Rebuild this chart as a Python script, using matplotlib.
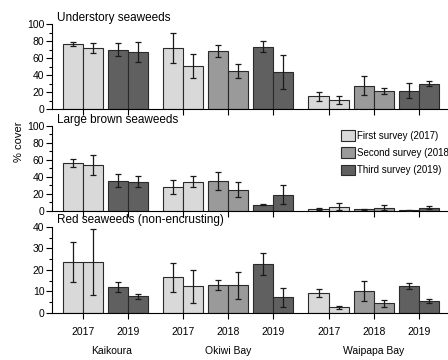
import matplotlib
matplotlib.use("Agg")
import matplotlib.pyplot as plt
from matplotlib.patches import Patch
from matplotlib.ticker import MultipleLocator
import matplotlib.transforms as mtransforms
import numpy as np

plt.rcParams['font.family'] = ['Liberation Sans', 'DejaVu Sans']

# Survey layout: two sites sampled per location and survey year
sites = ['Kaikoura', 'Okiwi Bay', 'Waipapa Bay']
site_years = [['2017', '2019'], ['2017', '2018', '2019'], ['2017', '2018', '2019']]

# Mean % cover (two bars per survey) and standard errors
understory_mean = [76.4, 71.7, 70.1, 67.3, 71.7, 51.2, 68.5, 45.3,
                   73.6, 44.1, 15.0, 11.0, 27.6, 21.3, 21.7, 29.9]
understory_err = [2.4, 6.0, 8.0, 11.8, 17.5, 14.2, 6.9, 8.3,
                  6.9, 19.9, 5.1, 4.5, 10.8, 3.7, 8.5, 3.1]

brown_mean = [56.9, 53.7, 35.7, 34.5, 28.2, 34.5, 35.3, 24.7,
              7.5, 19.2, 2.4, 5.1, 2.0, 3.9, 0.8, 3.9]
brown_err = [4.7, 11.8, 7.6, 6.1, 8.6, 6.5, 11.0, 8.8,
             0.8, 11.2, 1.6, 4.1, 0.6, 3.1, 0.3, 1.4]

red_mean = [23.7, 23.7, 12.0, 7.6, 16.5, 12.3, 12.8, 12.8,
            22.7, 7.2, 9.3, 2.6, 10.1, 4.4, 12.3, 5.4]
red_err = [9.3, 15.4, 2.2, 1.2, 6.7, 7.5, 2.3, 6.2,
           4.9, 4.4, 2.0, 0.6, 4.7, 1.7, 1.4, 0.9]

panels = [
    ('Understory seaweeds', understory_mean, understory_err, 100),
    ('Large brown seaweeds', brown_mean, brown_err, 100),
    ('Red seaweeds (non-encrusting)', red_mean, red_err, 40),
]

year_colors = {'2017': '#d9d9d9', '2018': '#9a9a9a', '2019': '#606060'}
legend_labels = {'2017': 'First survey (2017)',
                 '2018': 'Second survey (2018)',
                 '2019': 'Third survey (2019)'}

# x centres of each survey year, grouped by site
centers, years, site_centers = [], [], []
x = 0.0
for s, yrs in enumerate(site_years):
    if s > 0:
        x += 2.75
    start = x
    for j, yr in enumerate(yrs):
        if j > 0:
            x += 2.25
        centers.append(x)
        years.append(yr)
    site_centers.append((start + x) / 2)
site_centers[0] += 0.3

bar_x, bar_colors = [], []
for c, yr in zip(centers, years):
    for off in (-0.5, 0.5):
        bar_x.append(c + off)
        bar_colors.append(year_colors[yr])

fs = 7.5
fig = plt.figure(figsize=(4.48, 3.6), dpi=100)
axes_boxes = [(0.116, 0.697, 0.884, 0.236),
              (0.116, 0.414, 0.884, 0.236),
              (0.116, 0.131, 0.884, 0.239)]

for box, (title, mean, err, ymax) in zip(axes_boxes, panels):
    ax = fig.add_axes(box)
    ax.bar(bar_x, mean, width=1.0, color=bar_colors, edgecolor='#2a2a2a',
           linewidth=0.8, zorder=2)
    ax.errorbar(bar_x, mean, yerr=err, fmt='none', ecolor='#1a1a1a',
                elinewidth=0.9, capsize=2.4, capthick=0.9, zorder=3)
    ax.set_xlim(-1.53, 18.2)
    ax.set_ylim(0, ymax)
    ax.spines[['top', 'right']].set_visible(False)
    ax.spines[['left', 'bottom']].set_linewidth(0.8)
    major = 20 if ymax == 100 else 10
    ax.yaxis.set_major_locator(MultipleLocator(major))
    ax.yaxis.set_minor_locator(MultipleLocator(major / 2))
    ax.tick_params(axis='y', which='major', length=4, width=0.8, labelsize=fs, pad=1.5)
    ax.tick_params(axis='y', which='minor', length=2, width=0.8)
    ax.set_xticks(centers)
    ax.tick_params(axis='x', length=4, width=0.8, labelsize=fs, pad=6)
    ax.set_xticklabels(years if ymax == 40 else [])
    ax.text(0.012, 1.005, title, transform=ax.transAxes, fontsize=8.5,
            ha='left', va='bottom')
    last_ax = ax

# Location names under the year ticks
trans = mtransforms.blended_transform_factory(last_ax.transData, fig.transFigure)
for name, cx in zip(sites, site_centers):
    fig.text(cx, 1 - 351 / 360, name, transform=trans, fontsize=fs,
             ha='center', va='center')

fig.text(19 / 448, 1 - 142 / 360, '% cover', rotation=90, fontsize=fs + 0.5,
         ha='center', va='center')

handles = [Patch(facecolor=year_colors[y], edgecolor='#2a2a2a', linewidth=0.8,
                 label=legend_labels[y]) for y in ['2017', '2018', '2019']]
fig.legend(handles=handles, loc='upper left', bbox_to_anchor=(0.761, 0.639),
           frameon=False, fontsize=fs - 0.5, handlelength=1.45, handleheight=1.3,
           labelspacing=0.7, handletextpad=0.25, borderpad=0, borderaxespad=0)

fig.savefig('out.png', dpi=100)
